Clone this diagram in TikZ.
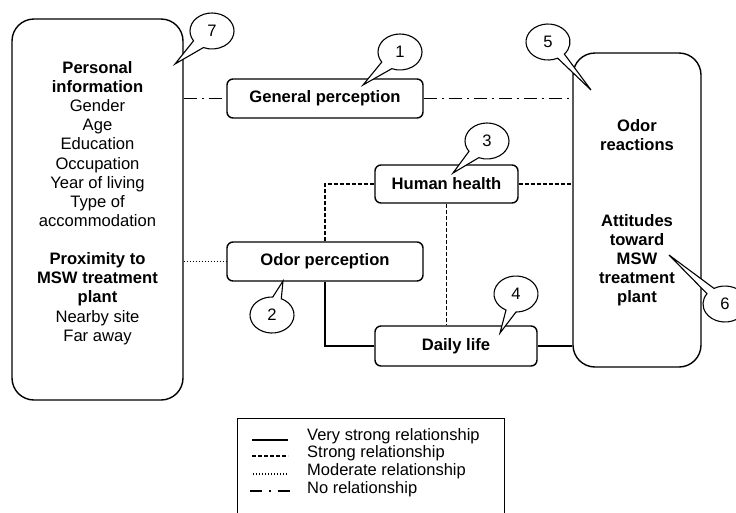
\documentclass[tikz,border=0pt]{standalone}
\usepackage{fontspec}
\setmainfont{Liberation Sans}
\begin{document}
\begin{tikzpicture}[x=1pt,y=-1pt,
  txt/.style={font=\fontsize{16.6}{19.14}\selectfont, inner sep=0pt},
  btxt/.style={font=\fontsize{16.6}{19.14}\selectfont\bfseries, inner sep=0pt},
  bigbox/.style={draw, line width=1.4pt, rounded corners=22pt, inner sep=0pt},
  smallbox/.style={draw, line width=1.4pt, rounded corners=6pt, inner sep=0pt, font=\fontsize{16.6}{19.14}\selectfont\bfseries},
  callout/.style={draw, fill=white, line width=1.1pt, line join=miter},
  conn/.style={line width=1.2pt},
  dashdotline/.style={conn, dash pattern=on 13pt off 5pt on 2pt off 5pt},
  dashline/.style={conn, dash pattern=on 4pt off 2pt},
  dotline/.style={conn, dash pattern=on 1pt off 2pt},
  legtxt/.style={font=\fontsize{16.5}{19}\selectfont, inner sep=0pt, anchor=west}
]
\useasboundingbox (0,0) rectangle (736,512);

% big boxes
\node[bigbox, minimum width=171pt, minimum height=381pt] (left) at (97.5,209.5) {};
\node[bigbox, minimum width=128pt, minimum height=314pt] (right) at (637,210) {};

\node[txt, align=center] (lefttext) at (97.5,203) {\textbf{Personal}\\\textbf{information}\\Gender\\Age\\Education\\Occupation\\Year of living\\Type of\\accommodation\\[19.14pt]\textbf{Proximity to}\\\textbf{MSW treatment}\\\textbf{plant}\\Nearby site\\Far away};
\node[btxt, align=center] (rt1) at (637,135) {Odor\\reactions};
\node[btxt, align=center] (rt2) at (637,260) {Attitudes\\toward\\MSW\\treatment\\plant};

% small boxes
\node[smallbox, minimum width=196pt, minimum height=39pt] (gp) at (325,98.5) {General perception};
\node[smallbox, minimum width=196pt, minimum height=39pt] (op) at (325,261.5) {Odor perception};
\node[smallbox, minimum width=143pt, minimum height=38pt] (hh) at (446.5,184) {Human health};
\node[smallbox, minimum width=162pt, minimum height=40pt] (dl) at (456,346) {Daily life};

% connectors
\draw[dashdotline] (left.east |- gp.west) -- (gp.west);
\draw[dashdotline] (gp.east) -- (gp.east -| right.west);
\draw[dotline] (left.east |- op.west) -- (op.west);
\draw[dashline] (op.north) |- (hh.west);
\draw[dashline] (hh.east) -- (hh.east -| right.west);
\draw[dashline] (hh.south) -- (hh.south |- dl.north);
\draw[conn] (op.south) |- (dl.west);
\draw[conn] (dl.east) -- (dl.east -| right.west);

% callouts
\newcommand{\mycallout}[8]{%
  \draw[callout] (#2,#3) ++(#5:22 and 18) arc[start angle=#5, end angle=#4+360, x radius=22, y radius=18] -- (#6,#7) -- cycle;
  \node[txt] (#1) at (#2,#3) {#8};}
\mycallout{c7}{212}{31}{113}{147}{175}{64}{7}
\mycallout{c1}{400}{52}{112}{146}{363}{85}{1}
\mycallout{c5}{548}{42}{42}{64}{591}{90}{5}
\mycallout{c3}{487}{141}{112}{145}{453}{173}{3}
\mycallout{c4}{516}{294}{90}{117}{500}{333}{4}
\mycallout{c2}{272}{315}{272}{295}{283}{281}{2}
\mycallout{c6}{725}{304}{215}{240}{669}{255}{6}

% legend
\node[draw, line width=1.1pt, minimum width=267pt, minimum height=110pt, anchor=north west, inner sep=0pt] (legend) at (237,418) {};
\coordinate (l1a) at (252,440); \coordinate (l1b) at (288,440);
\coordinate (l2a) at (252,456); \coordinate (l2b) at (288,456);
\coordinate (l3a) at (253,474); \coordinate (l3b) at (288,474);
\coordinate (l4a) at (250,491); \coordinate (l4b) at (290,491);
\draw[conn] (l1a) -- (l1b);
\draw[conn, dash pattern=on 4pt off 2pt] (l2a) -- (l2b);
\draw[conn, dash pattern=on 1pt off 2pt] (l3a) -- (l3b);
\draw[conn, dash pattern=on 12pt off 7pt on 1.5pt off 7pt] (l4a) -- (l4b);
\node[legtxt] (t1) at (307,436) {Very strong relationship};
\node[legtxt] (t2) at (307,453) {Strong relationship};
\node[legtxt] (t3) at (307,471) {Moderate relationship};
\node[legtxt] (t4) at (307,489) {No relationship};
\end{tikzpicture}
\end{document}
